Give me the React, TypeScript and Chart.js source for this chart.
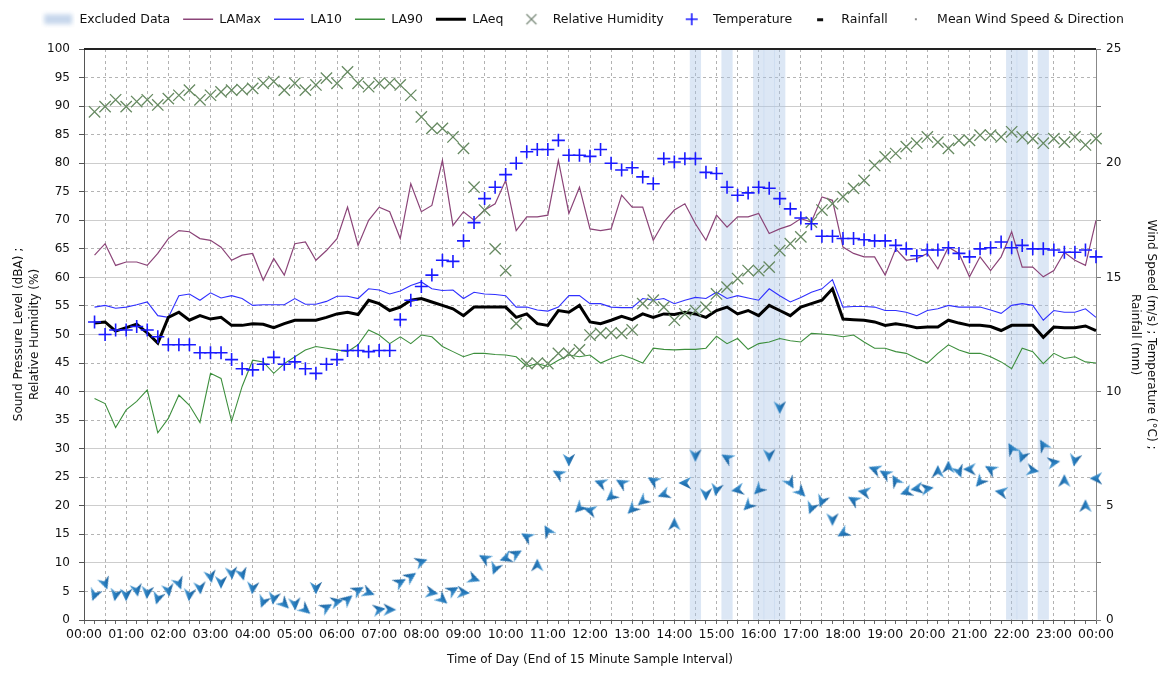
import React, { useEffect, useRef } from 'react';
import { Chart, registerables } from 'chart.js';

Chart.register(...registerables);

// ---------- data ----------
const hourTicks = [
  '00:00', '01:00', '02:00', '03:00', '04:00', '05:00', '06:00', '07:00', '08:00', '09:00',
  '10:00', '11:00', '12:00', '13:00', '14:00', '15:00', '16:00', '17:00', '18:00', '19:00',
  '20:00', '21:00', '22:00', '23:00', '00:00',
];

// values at the end of each 15 minute interval (00:15 ... 24:00)
const laMax = [
  63.9, 65.9, 62.1, 62.7, 62.7, 62.1, 64.2, 66.8, 68.2, 68.0, 66.8, 66.5, 65.3, 63.0, 63.9, 64.2,
  59.5, 63.3, 60.4, 65.9, 66.2, 63.0, 64.7, 66.8, 72.3, 65.6, 70.0, 72.3, 71.5, 66.8, 76.4, 71.5,
  72.6, 80.5, 69.1, 71.5, 70.0, 71.8, 72.9, 77.0, 68.2, 70.6, 70.6, 70.9, 80.5, 71.2, 75.8, 68.5,
  68.2, 68.5, 74.4, 72.3, 72.3, 66.5, 69.7, 71.8, 72.9, 69.4, 66.5, 70.9, 68.8, 70.6, 70.6, 71.2,
  67.7, 68.5, 69.1, 70.3, 69.7, 74.1, 73.5, 65.3, 64.2, 63.6, 63.6, 60.4, 65.0, 63.0, 63.3, 64.2,
  61.5, 65.3, 64.2, 60.1, 63.6, 61.2, 63.6, 68.0, 61.8, 61.8, 60.1, 61.2, 64.4, 63.0, 62.1, 70.0,
];
const la10 = [
  54.8, 55.1, 54.6, 54.8, 55.2, 55.7, 53.3, 53.0, 56.8, 57.1, 56.0, 57.3, 56.4, 56.8, 56.3, 55.1,
  55.2, 55.2, 55.2, 56.3, 55.3, 55.3, 55.8, 56.7, 56.7, 56.3, 58.0, 57.8, 57.1, 57.6, 58.6, 59.2,
  58.0, 57.7, 57.8, 56.3, 57.4, 57.1, 57.0, 56.8, 54.8, 54.8, 54.3, 54.1, 54.8, 56.8, 56.8, 55.4,
  55.4, 54.8, 54.7, 54.7, 56.3, 56.0, 56.3, 55.4, 56.0, 56.5, 56.3, 57.4, 56.3, 56.8, 56.4, 56.0,
  58.0, 56.8, 55.7, 56.5, 57.4, 58.0, 59.6, 54.8, 54.9, 54.9, 54.8, 54.2, 54.2, 53.9, 53.3, 54.2,
  54.5, 55.1, 54.8, 54.8, 54.8, 54.3, 53.7, 55.1, 55.4, 55.1, 52.5, 54.2, 53.9, 53.9, 54.5, 53.0,
];
const la90 = [
  38.8, 37.9, 33.7, 36.8, 38.3, 40.3, 32.8, 35.3, 39.4, 37.6, 34.6, 43.2, 42.3, 34.8, 40.9, 45.5,
  45.2, 43.2, 44.9, 46.1, 47.3, 47.9, 47.6, 47.3, 47.0, 48.2, 50.8, 49.9, 48.4, 49.6, 48.4, 49.9,
  49.6, 47.9, 47.0, 46.1, 46.7, 46.7, 46.5, 46.4, 46.1, 44.4, 44.9, 44.4, 45.5, 46.4, 46.1, 46.4,
  45.0, 45.8, 46.4, 45.8, 45.0, 47.6, 47.4, 47.3, 47.4, 47.4, 47.6, 49.7, 48.4, 49.3, 47.4, 48.4,
  48.7, 49.3, 48.9, 48.7, 50.2, 50.1, 49.9, 49.6, 49.9, 48.7, 47.6, 47.6, 47.0, 46.7, 45.8, 45.0,
  46.7, 48.2, 47.3, 46.7, 46.7, 46.1, 45.2, 44.0, 47.6, 47.0, 44.9, 46.7, 45.8, 46.1, 45.2, 45.0,
];
const laEq = [
  52.0, 52.2, 50.6, 51.2, 51.8, 50.3, 48.5, 53.0, 53.9, 52.5, 53.3, 52.7, 53.0, 51.6, 51.6, 51.9,
  51.8, 51.2, 51.9, 52.5, 52.5, 52.5, 53.0, 53.6, 53.9, 53.5, 56.0, 55.4, 54.2, 54.8, 56.0, 56.3,
  55.7, 55.1, 54.5, 53.3, 54.8, 54.8, 54.8, 54.8, 53.0, 53.6, 51.9, 51.6, 54.2, 53.9, 55.1, 52.2,
  51.9, 52.5, 53.2, 52.6, 53.6, 53.0, 53.6, 53.5, 53.9, 53.6, 53.0, 54.2, 54.8, 53.6, 54.2, 53.3,
  55.1, 54.2, 53.3, 54.8, 55.4, 56.0, 58.0, 52.7, 52.6, 52.5, 52.2, 51.6, 51.9, 51.6, 51.2, 51.3,
  51.3, 52.5, 52.0, 51.6, 51.6, 51.4, 50.7, 51.6, 51.6, 51.6, 49.5, 51.3, 51.2, 51.2, 51.5, 50.7,
];
const relHumidity = [
  89.0, 89.9, 91.1, 89.9, 90.8, 91.1, 90.2, 91.3, 91.9, 92.8, 91.1, 91.9, 92.5, 92.8, 92.9, 93.1,
  94.0, 94.3, 92.8, 94.0, 92.8, 93.7, 94.9, 94.0, 96.0, 94.0, 93.4, 94.0, 94.0, 93.7, 91.9, 88.1,
  86.1, 86.1, 84.6, 82.6, 75.8, 71.8, 65.0, 61.2, 51.9, 44.9, 45.0, 44.9, 46.7, 46.7, 47.3, 49.9,
  50.2, 50.3, 50.2, 50.8, 55.4, 56.0, 54.8, 52.5, 53.6, 54.2, 54.8, 57.1, 58.3, 59.8, 61.2, 61.2,
  61.8, 64.7, 65.9, 67.1, 69.7, 71.8, 72.9, 74.1, 75.6, 77.0, 79.6, 81.1, 81.7, 82.9, 83.5, 84.6,
  83.7, 82.6, 84.0, 84.0, 84.9, 84.9, 84.6, 85.5, 84.6, 84.3, 83.5, 84.3, 83.7, 84.6, 83.2, 84.3,
];
const temperature = [
  13.05, 12.5, 12.7, 12.7, 12.85, 12.7, 12.4, 12.05, 12.05, 12.05, 11.7, 11.7, 11.7, 11.4, 11.0, 10.95,
  11.2, 11.5, 11.2, 11.3, 11.0, 10.8, 11.2, 11.4, 11.8, 11.8, 11.75, 11.8, 11.8, 13.15, 14.0, 14.6,
  15.1, 15.75, 15.7, 16.6, 17.4, 18.45, 18.95, 19.5, 20.0, 20.5, 20.6, 20.6, 21.0, 20.35, 20.35, 20.3,
  20.6, 20.0, 19.7, 19.8, 19.4, 19.1, 20.2, 20.05, 20.2, 20.2, 19.6, 19.55, 18.95, 18.6, 18.7, 18.95,
  18.9, 18.45, 18.0, 17.6, 17.35, 16.8, 16.8, 16.7, 16.7, 16.65, 16.6, 16.6, 16.4, 16.25, 15.95, 16.2,
  16.2, 16.3, 16.05, 15.9, 16.25, 16.3, 16.55, 16.3, 16.4, 16.25, 16.25, 16.2, 16.1, 16.1, 16.2, 15.9,
];
const rainfall: number[] = [];
const windSpeed = [
  1.1, 1.6, 1.1, 1.1, 1.3, 1.2, 0.95, 1.3, 1.6, 1.1, 1.4, 1.9, 1.65, 2.05, 2.0, 1.4,
  0.8, 0.95, 0.7, 0.7, 0.45, 1.4, 0.55, 0.8, 0.9, 1.3, 1.2, 0.45, 0.45, 1.65, 1.9, 2.55,
  1.2, 0.9, 1.3, 1.2, 1.8, 2.7, 2.25, 2.7, 2.9, 3.65, 2.4, 3.9, 6.4, 7.0, 4.9, 4.8,
  6.0, 5.4, 6.0, 4.85, 5.2, 6.1, 5.5, 4.2, 6.0, 7.2, 5.5, 5.7, 7.1, 5.7, 5.0, 5.7,
  7.2, 9.3, 6.0, 5.6, 4.9, 5.2, 4.4, 3.8, 5.25, 5.6, 6.6, 6.4, 6.1, 5.6, 5.75, 5.75,
  6.5, 6.7, 6.5, 6.6, 6.05, 6.6, 5.6, 7.5, 7.15, 6.55, 7.65, 6.9, 6.1, 7.0, 5.0, 6.2,
];
// direction the arrow points, degrees clockwise from up
const windDirection = [
  200, 160, 190, 180, 170, 185, 195, 170, 160, 185, 175, 170, 180, 175, 165, 185,
  200, 190, 135, 175, 130, 180, 60, 75, 50, 60, 110, 80, 90, 60, 55, 70,
  100, 130, 60, 95, 110, 300, 200, 250, 60, 300, 0, 330, 300, 180, 225, 285,
  290, 230, 300, 225, 230, 300, 250, 0, 270, 180, 180, 190, 300, 260, 225, 225,
  180, 180, 150, 135, 200, 200, 180, 240, 300, 280, 290, 300, 330, 250, 260, 80,
  0, 0, 160, 270, 220, 300, 280, 330, 200, 100, 330, 80, 0, 190, 0, 270,
];
// interval numbers (1 = 00:15) flagged as excluded
const excludedIntervals = [58, 61, 64, 65, 66, 88, 89, 91];

// ---------- helpers ----------
const times: string[] = [];
for (let k = 0; k <= 96; k++) {
  const h = Math.floor(k / 4) % 24;
  const m = (k % 4) * 15;
  times.push(`${String(h).padStart(2, '0')}:${String(m).padStart(2, '0')}`);
}
const withStart = (arr: number[]) => [null, ...arr];
const excludedData = times.map((_, k) => (excludedIntervals.includes(k) ? 100 : null));

const FONT = "'DejaVu Sans', 'Liberation Sans', sans-serif";

function makeCanvas(w: number, h: number, draw: (g: CanvasRenderingContext2D) => void) {
  const c = document.createElement('canvas');
  c.width = w;
  c.height = h;
  const g = c.getContext('2d')!;
  draw(g);
  return c;
}

export default function App() {
  const ref = useRef<HTMLCanvasElement | null>(null);

  useEffect(() => {
    if (!ref.current) return;

    const arrow = makeCanvas(14, 14, (g) => {
      const grad = g.createLinearGradient(0, 0, 14, 0);
      grad.addColorStop(0, '#175891');
      grad.addColorStop(0.5, '#2479bb');
      grad.addColorStop(1, '#5aa6da');
      g.fillStyle = grad;
      g.beginPath();
      g.moveTo(7, 0.5);
      g.lineTo(13.2, 13.2);
      g.lineTo(7, 9.2);
      g.lineTo(0.8, 13.2);
      g.closePath();
      g.fill();
    });
    const exclIcon = makeCanvas(34, 18, (g) => {
      g.filter = 'blur(2px)';
      g.fillStyle = 'rgba(175,198,228,0.7)';
      g.fillRect(3, 4, 28, 10);
    });
    const rhIcon = makeCanvas(14, 14, (g) => {
      g.strokeStyle = '#7a8a7a';
      g.lineWidth = 1.3;
      g.beginPath();
      g.moveTo(2, 2); g.lineTo(12, 12);
      g.moveTo(12, 2); g.lineTo(2, 12);
      g.stroke();
    });
    const tIcon = makeCanvas(14, 14, (g) => {
      g.strokeStyle = '#1a1aff';
      g.lineWidth = 1.6;
      g.beginPath();
      g.moveTo(1, 7); g.lineTo(13, 7);
      g.moveTo(7, 1); g.lineTo(7, 13);
      g.stroke();
    });
    const rainIcon = makeCanvas(8, 6, (g) => {
      g.fillStyle = '#111';
      g.fillRect(1, 2, 6, 3);
    });
    const windIcon = makeCanvas(4, 4, (g) => {
      g.fillStyle = '#888';
      g.fillRect(1, 1, 2, 2);
    });

    const legendItems = [
      { text: 'Excluded Data', pointStyle: exclIcon, strokeStyle: 'transparent', fillStyle: 'transparent', lineWidth: 0 },
      { text: 'LAMax', pointStyle: 'line', strokeStyle: '#8b4478', fillStyle: '#8b4478', lineWidth: 1.5 },
      { text: 'LA10', pointStyle: 'line', strokeStyle: '#2f2fff', fillStyle: '#2f2fff', lineWidth: 1.5 },
      { text: 'LA90', pointStyle: 'line', strokeStyle: '#3d8f3d', fillStyle: '#3d8f3d', lineWidth: 1.5 },
      { text: 'LAeq', pointStyle: 'line', strokeStyle: '#000', fillStyle: '#000', lineWidth: 3 },
      { text: 'Relative Humidity', pointStyle: rhIcon, strokeStyle: 'transparent', fillStyle: 'transparent', lineWidth: 0 },
      { text: 'Temperature', pointStyle: tIcon, strokeStyle: 'transparent', fillStyle: 'transparent', lineWidth: 0 },
      { text: 'Rainfall', pointStyle: rainIcon, strokeStyle: 'transparent', fillStyle: 'transparent', lineWidth: 0 },
      { text: 'Mean Wind Speed & Direction', pointStyle: windIcon, strokeStyle: 'transparent', fillStyle: 'transparent', lineWidth: 0 },
    ];

    const legendHeight = {
      id: 'legendHeight',
      beforeInit(chart: any) {
        const lg = chart.legend;
        if (!lg) return;
        const orig = lg.fit;
        lg.fit = function () {
          orig.call(this);
          this.height = 49;
        };
      },
    };
    const frameTop = {
      id: 'frameTop',
      afterDatasetsDraw(chart: any) {
        const { ctx, chartArea } = chart;
        ctx.save();
        ctx.strokeStyle = '#222';
        ctx.lineWidth = 2;
        ctx.beginPath();
        ctx.moveTo(chartArea.left, chartArea.top);
        ctx.lineTo(chartArea.right, chartArea.top);
        ctx.stroke();
        ctx.restore();
      },
    };

    const lineDs = (label: string, data: number[], color: string, width: number, order: number) => ({
      type: 'line' as const,
      label,
      data: withStart(data),
      borderColor: color,
      backgroundColor: color,
      borderWidth: width,
      pointRadius: 0,
      tension: 0,
      yAxisID: 'y',
      order,
    });

    const chart = new Chart(ref.current, {
      type: 'line',
      data: {
        labels: times,
        datasets: [
          {
            type: 'bar',
            label: 'Excluded Data',
            data: excludedData,
            backgroundColor: 'rgba(172,198,232,0.42)',
            borderWidth: 0,
            barPercentage: 1,
            categoryPercentage: 1,
            yAxisID: 'y',
            order: 10,
          } as any,
          lineDs('LAMax', laMax, '#8b4478', 1.2, 7),
          lineDs('LA10', la10, '#3030ff', 1.1, 6),
          lineDs('LA90', la90, '#3d8f3d', 1.1, 5),
          lineDs('LAeq', laEq, '#000000', 3, 4),
          {
            type: 'line',
            label: 'Relative Humidity',
            data: withStart(relHumidity),
            showLine: false,
            pointStyle: 'crossRot',
            pointRadius: 8,
            pointBorderColor: '#678a62',
            pointBorderWidth: 1.3,
            yAxisID: 'y',
            order: 3,
          } as any,
          {
            type: 'line',
            label: 'Temperature',
            data: withStart(temperature),
            showLine: false,
            pointStyle: 'cross',
            pointRadius: 6.5,
            pointBorderColor: '#1a1aff',
            pointBorderWidth: 1.6,
            yAxisID: 'y1',
            order: 2,
          } as any,
          {
            type: 'line',
            label: 'Rainfall',
            data: rainfall,
            showLine: false,
            pointStyle: 'dash',
            yAxisID: 'y1',
            order: 2,
          } as any,
          {
            type: 'line',
            label: 'Mean Wind Speed & Direction',
            data: withStart(windSpeed),
            showLine: false,
            pointStyle: arrow,
            pointRadius: 7,
            rotation: (c: any) => windDirection[c.dataIndex - 1] ?? 0,
            yAxisID: 'y1',
            order: 1,
          } as any,
        ],
      },
      options: {
        responsive: true,
        maintainAspectRatio: false,
        animation: false,
        devicePixelRatio: 1,
        layout: { padding: 0 },
        font: { family: FONT } as any,
        plugins: {
          tooltip: { enabled: false },
          legend: {
            display: true,
            position: 'top',
            align: 'center',
            onClick: () => {},
            labels: {
              usePointStyle: true,
              pointStyleWidth: 30,
              boxHeight: 12,
              padding: 13,
              color: '#111',
              font: { family: FONT, size: 12.5 },
              generateLabels: () =>
                legendItems.map((it, i) => ({
                  text: it.text,
                  pointStyle: it.pointStyle as any,
                  strokeStyle: it.strokeStyle,
                  fillStyle: it.fillStyle,
                  lineWidth: it.lineWidth,
                  hidden: false,
                  datasetIndex: i,
                  fontColor: '#111',
                })),
            },
          },
        },
        scales: {
          x: {
            type: 'category',
            offset: false,
            grid: {
              offset: false,
              color: (c: any) => (c.index % 2 === 0 ? '#b2b2b2' : 'rgba(0,0,0,0)'),
              lineWidth: 1,
              tickColor: '#666',
              tickLength: 4,
            },
            border: { display: true, color: '#555', dash: [3, 3] },
            ticks: {
              autoSkip: false,
              maxRotation: 0,
              minRotation: 0,
              padding: 3,
              color: '#111',
              font: { family: FONT, size: 12.5 },
              callback: (_v: any, i: number) => (i % 4 === 0 ? hourTicks[i / 4] : ''),
            },
            title: {
              display: true,
              text: 'Time of Day (End of 15 Minute Sample Interval)',
              color: '#111',
              font: { family: FONT, size: 12 },
              padding: { top: 0, bottom: 8 },
            },
            afterFit: (s: any) => {
              s.height = 55;
            },
          },
          y: {
            position: 'left',
            min: 0,
            max: 100,
            ticks: { stepSize: 5, color: '#111', padding: 9, font: { family: FONT, size: 12 } },
            grid: { color: '#b4b4b4', lineWidth: 1, tickLength: 5, tickColor: '#555' },
            border: { display: true, color: '#555', dash: [3, 3] },
            title: {
              display: true,
              text: ['Sound Pressure Level (dBA) ;', 'Relative Humidity (%)'],
              color: '#111',
              font: { family: FONT, size: 12, lineHeight: 1.4 },
              padding: { top: 10, bottom: 0 },
            },
            afterFit: (s: any) => {
              s.width = 84;
            },
          },
          y1: {
            position: 'right',
            min: 0,
            max: 25,
            ticks: {
              stepSize: 2.5,
              color: '#111',
              padding: 5,
              font: { family: FONT, size: 12 },
              callback: (v: any) => (Number(v) % 5 === 0 ? String(v) : ''),
            },
            grid: { color: '#cdcdcd', lineWidth: 1, drawOnChartArea: true, tickLength: 5, tickColor: '#777' },
            border: { display: true, color: '#888' },
            title: {
              display: true,
              text: ['Wind Speed (m/s) ; Temperature (°C) ;', 'Rainfall (mm)'],
              color: '#111',
              font: { family: FONT, size: 12, lineHeight: 1.4 },
              padding: { top: 7, bottom: 0 },
            },
            afterFit: (s: any) => {
              s.width = 71;
            },
          },
        },
      } as any,
      plugins: [legendHeight, frameTop],
    });

    return () => chart.destroy();
  }, []);

  return (
    <div style={{ position: 'absolute', left: 0, top: 0, width: 1167, height: 675, background: '#fff' }}>
      <canvas ref={ref} />
    </div>
  );
}
